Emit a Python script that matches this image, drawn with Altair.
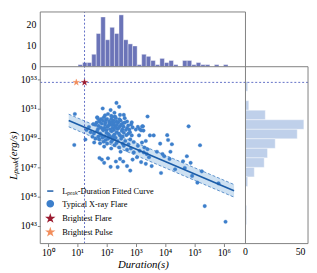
import altair as alt
import pandas as pd

# ---------------- data (log10 units) ----------------
log_duration = [
    2.34, 1.87, 2.14, 2.43,
    2.27, 2.05, 1.68, 2.16, 2.46, 2.29, 2.59,
    1.70, 1.75, 1.82, 1.91, 1.98, 2.09, 2.16, 2.24, 2.32, 2.40, 2.48, 2.56, 2.70, 2.86, 3.40,
    1.62, 1.73, 1.84, 1.95, 2.03, 2.14, 2.21, 2.29, 2.38, 2.46, 2.54, 2.70, 2.78, 2.89, 3.00, 3.07, 3.18, 3.24,
    1.46, 1.57, 1.68, 1.78, 1.89, 2.00, 2.09, 2.18, 2.27, 2.35, 2.46, 2.59, 2.75, 2.86, 3.11, 3.48, 3.61,
    1.52, 1.62, 1.75, 1.86, 1.97, 2.05, 2.16, 2.27, 2.38, 2.50, 2.64, 2.81, 2.93, 3.21, 3.34,
    1.78, 1.92, 2.16, 2.27, 2.43, 2.59, 2.75, 2.83, 3.07, 3.29, 3.40,
    2.48, 2.70, 2.93, 3.13, 3.27, 3.37,
    1.76, 1.84, 1.92, 2.05, 2.14, 2.32, 2.38, 2.46, 2.57, 2.70, 2.81, 2.89, 3.04, 3.18, 3.34,
    0.90, 0.92,
    4.80, 4.07, 4.10, 4.23, 3.83, 5.19, 3.72, 3.91, 3.97, 4.18, 4.15, 3.45, 3.54, 3.86, 4.34,
    4.61, 4.74, 4.87, 4.67, 4.92, 5.10, 5.25, 5.82, 5.35, 6.06,
    3.22, 3.26, 3.13,
    1.66, 1.71, 1.77, 1.80, 1.86, 1.88, 1.93, 1.96, 2.00, 2.02, 2.07, 2.10, 2.12, 2.18, 2.20,
    2.25, 2.26, 2.31, 2.34, 2.36, 2.42, 2.44, 2.50, 2.52, 2.58, 2.62, 2.66, 2.74, 2.80, 2.84,
    1.72, 1.82, 1.94, 2.06, 2.13, 2.22, 2.31, 2.42, 2.55, 2.68,
    1.90, 2.02, 2.20, 2.34, 2.55, 1.40, 1.32, 1.55, 1.28, 1.58, 2.62, 2.20, 1.95,
]
log_lpeak = [
    51.40, 51.02, 50.91, 51.13,
    50.73, 50.64, 50.42, 50.51, 50.58, 50.47, 50.58,
    50.36, 50.20, 50.29, 50.42, 50.24, 50.13, 50.29, 50.20, 50.36, 50.07, 50.20, 50.02, 50.13, 50.07, 50.47,
    49.91, 49.84, 49.98, 49.91, 49.76, 49.91, 49.69, 49.84, 49.62, 49.80, 49.58, 49.69, 49.58, 49.73, 49.58, 49.76, 49.53, 49.80,
    49.40, 49.31, 49.47, 49.31, 49.53, 49.36, 49.18, 49.47, 49.24, 49.40, 49.18, 49.36, 49.31, 49.18, 49.18, 49.18, 49.18,
    49.09, 48.96, 48.91, 49.02, 48.87, 48.96, 48.73, 48.96, 48.80, 48.96, 48.80, 48.91, 48.73, 48.69, 48.80,
    48.64, 48.42, 48.29, 48.51, 48.36, 48.47, 48.58, 48.29, 48.47, 48.36, 48.24,
    48.07, 48.20, 48.02, 48.13, 48.02, 47.91,
    47.64, 47.53, 47.31, 47.62, 47.04, 47.40, 47.02, 47.58, 47.40, 47.09, 46.78, 47.53, 47.69, 47.36, 47.24,
    48.53, 50.64,
    49.80, 49.20, 48.87, 48.58, 48.62, 48.51, 48.07, 47.91, 47.76, 48.07, 47.58, 47.69, 47.09, 46.62, 46.87,
    47.42, 47.76, 47.31, 46.96, 46.42, 45.96, 46.73, 45.91, 44.36, 43.29,
    49.80, 49.51, 49.62,
    50.05, 49.62, 50.10, 49.72, 49.66, 50.18, 49.70, 50.05, 49.55, 50.30, 49.85, 50.02, 49.60, 50.08, 49.88,
    50.00, 49.55, 49.72, 50.12, 49.90, 49.70, 50.28, 49.92, 49.48, 49.78, 50.05, 49.55, 49.85, 49.40, 49.92,
    49.10, 49.20, 49.12, 49.28, 49.05, 49.12, 49.02, 49.30, 49.10, 49.20,
    48.75, 48.62, 48.85, 48.66, 48.62, 49.75, 49.55, 49.95, 48.90, 48.70, 50.36, 50.45, 50.55,
]

brightest_flare = [1.25, 52.80]   # log10 duration (s), log10 Lpeak (erg/s)
brightest_pulse = [0.97, 52.80]

fit_log_duration = [0.71, 6.35]
fit_log_lpeak = [50.20, 45.40]
fit_band_halfwidth = 0.43

# top histogram (duration), bins in log10(s)
dur_bin_start = 1.03
dur_bin_width = 0.155
dur_counts = [1, 2, 2, 6, 16, 24, 13, 19, 16, 25, 13, 11, 10, 1, 6, 5, 3, 1, 4, 2, 3, 1, 0,
              3, 3, 1, 2, 1, 1, 0, 1, 0, 1]
dur_count_ticks = [0, 10, 20]
dur_count_max = 26.4

# right histogram (Lpeak), bins in log10(erg/s), listed from the top down
lpk_bin_top = 52.85
lpk_bin_width = 0.65
lpk_counts = [2, 0, 3, 18, 53, 47, 27, 20, 17, 8, 2, 0, 0, 1, 1]
lpk_count_ticks = [0, 50]
lpk_count_max = 56.8

x_ticks = [0, 1, 2, 3, 4, 5, 6]
y_ticks = [43, 45, 47, 49, 51, 53]
x_main = [-0.26, 6.74]
y_main = [41.8, 53.87]

# ---------------- panel geometry (one shared coordinate system) ----------------
W_PLOT, H_PLOT = 274, 237      # whole framed area (main + side panels)
W_MAIN, H_MAIN = 210, 181      # main scatter panel inside it
x_per_px = (x_main[1] - x_main[0]) / W_MAIN
y_per_px = (y_main[1] - y_main[0]) / H_MAIN
X_MAX = x_main[1] + (W_PLOT - W_MAIN) * x_per_px
Y_MAX = y_main[1] + (H_PLOT - H_MAIN) * y_per_px
k_top = (Y_MAX - y_main[1]) / dur_count_max      # count -> log L offset in top panel
k_right = (X_MAX - x_main[1]) / lpk_count_max    # count -> log duration offset in right panel

# ---------------- tables ----------------
S_FIT = "Lₚₑₐₖ-Duration Fitted Curve"
S_TYP = "Typical X-ray Flare"
S_BF = "Brightest Flare"
S_BP = "Brightest Pulse"
series_names = [S_FIT, S_TYP, S_BF, S_BP]

pts = pd.DataFrame({"d": log_duration, "l": log_lpeak, "s": S_TYP})
stars = pd.DataFrame({
    "d": [brightest_flare[0], brightest_pulse[0]],
    "l": [brightest_flare[1], brightest_pulse[1]],
    "s": [S_BF, S_BP],
})
fit = pd.DataFrame({"d": fit_log_duration, "l": fit_log_lpeak})
fit["lo"] = fit["l"] - fit_band_halfwidth
fit["hi"] = fit["l"] + fit_band_halfwidth

dur_hist = pd.DataFrame({
    "lo": [dur_bin_start + i * dur_bin_width for i in range(len(dur_counts))],
    "hi": [dur_bin_start + (i + 1) * dur_bin_width for i in range(len(dur_counts))],
    "n": dur_counts,
})
dur_hist = dur_hist[dur_hist["n"] > 0].reset_index(drop=True)
dur_hist["base"] = y_main[1]
dur_hist["top"] = y_main[1] + dur_hist["n"] * k_top

lpk_hist = pd.DataFrame({
    "hi": [lpk_bin_top - i * lpk_bin_width for i in range(len(lpk_counts))],
    "lo": [lpk_bin_top - (i + 1) * lpk_bin_width for i in range(len(lpk_counts))],
    "n": lpk_counts,
})
lpk_hist = lpk_hist[lpk_hist["n"] > 0].reset_index(drop=True)
lpk_hist["base"] = x_main[1]
lpk_hist["end"] = x_main[1] + lpk_hist["n"] * k_right

top_ticks = pd.DataFrame({"v": dur_count_ticks})
top_ticks["x"] = x_main[0]
top_ticks["y"] = y_main[1] + top_ticks["v"] * k_top
top_ticks["t"] = top_ticks["v"].astype(str)

right_ticks = pd.DataFrame({"v": lpk_count_ticks})
right_ticks["x"] = x_main[1] + right_ticks["v"] * k_right
right_ticks["y"] = y_main[0]
right_ticks["t"] = right_ticks["v"].astype(str)

frame = pd.DataFrame({
    "x":  [x_main[0], x_main[0], x_main[0], X_MAX, x_main[1], x_main[0]],
    "x2": [X_MAX, x_main[0], x_main[1], X_MAX, x_main[1], X_MAX],
    "y":  [y_main[0], y_main[0], Y_MAX, y_main[0], y_main[0], y_main[1]],
    "y2": [y_main[0], Y_MAX, Y_MAX, y_main[1], Y_MAX, y_main[1]],
})

dash_lines = pd.DataFrame({
    "x":  [brightest_flare[0], x_main[0]],
    "x2": [brightest_flare[0], X_MAX],
    "y":  [y_main[0], brightest_flare[1]],
    "y2": [Y_MAX, brightest_flare[1]],
})

# ---------------- styling ----------------
SERIF = "Liberation Serif"
FRAME = "#808080"
DASH_C = "#4f5fbf"
# five-pointed star as a custom symbol path (within the [-1, 1] box)
STAR = ("M0,-1L0.2245,-0.309L0.9511,-0.309L0.3633,0.118L0.5878,0.809L0,0.382"
        "L-0.5878,0.809L-0.3633,0.118L-0.9511,-0.309L-0.2245,-0.309Z")

xs = alt.Scale(domain=[x_main[0], X_MAX], nice=False, zero=False)
ys = alt.Scale(domain=[y_main[0], Y_MAX], nice=False, zero=False)

x_label_expr = "'10' + ['⁰','¹','²','³','⁴','⁵','⁶'][datum.value]"
y_label_expr = "'10' + ['⁴³','⁴⁵','⁴⁷','⁴⁹','⁵¹','⁵³'][(datum.value - 43) / 2]"

x_axis = alt.Axis(values=x_ticks, labelExpr=x_label_expr, title="Duration(s)",
                  titleX=W_MAIN / 2, titleFontStyle="italic", titleFontWeight="normal",
                  titleFontSize=11, titlePadding=1, labelFontSize=10, tickSize=3,
                  labelPadding=1, domain=False, grid=False, tickColor=FRAME)
y_axis = alt.Axis(values=y_ticks, labelExpr=y_label_expr, title="Lₚₑₐₖ(erg/s)",
                  titleY=(H_PLOT - H_MAIN) + H_MAIN / 2, titleFontStyle="italic",
                  titleFontWeight="normal", titleFontSize=11, titlePadding=1,
                  labelFontSize=10, tickSize=3, labelPadding=1,
                  domain=False, grid=False, tickColor=FRAME)

fill_scale = alt.Scale(domain=series_names, range=["#1b5ca8", "#3d7fcb", "#9b1b30", "#f28e5c"])
shape_scale = alt.Scale(domain=series_names, range=["stroke", "circle", STAR, STAR])

legend = alt.Legend(title=None, orient="bottom-left", offset=6, padding=0,
                    labelFont=SERIF, labelFontSize=8.5, labelColor="black",
                    symbolSize=40, symbolStrokeWidth=1.5, rowPadding=2, labelOffset=8)

X = lambda f: alt.X(f, type="quantitative", scale=xs, axis=x_axis)
Y = lambda f: alt.Y(f, type="quantitative", scale=ys, axis=y_axis)

top_bars = alt.Chart(dur_hist).mark_rect(color="#6b74b8", stroke="white", strokeWidth=0.4).encode(
    x=X("lo"), x2="hi", y=Y("base"), y2="top")
right_bars = alt.Chart(lpk_hist).mark_rect(color="#bfd0ea", stroke="white", strokeWidth=0.4).encode(
    x=X("base"), x2="end", y=Y("lo"), y2="hi")

band = alt.Chart(fit).mark_area(color="#9ec3e6", opacity=0.5).encode(
    x=X("d"), y=Y("lo"), y2="hi")
band_lo = alt.Chart(fit).mark_line(color="#3b7ac0", strokeWidth=0.8, strokeDash=[3, 2]).encode(
    x=X("d"), y=Y("lo"))
band_hi = alt.Chart(fit).mark_line(color="#3b7ac0", strokeWidth=0.8, strokeDash=[3, 2]).encode(
    x=X("d"), y=Y("hi"))
fit_line = alt.Chart(fit).mark_line(color="#1b5ca8", strokeWidth=1.6).encode(
    x=X("d"), y=Y("l"))


def point_layer(df, size):
    return alt.Chart(df).mark_point(filled=True, strokeWidth=0.3, opacity=1, size=size).encode(
        x=X("d"), y=Y("l"),
        fill=alt.Fill("s:N", scale=fill_scale, legend=legend),
        stroke=alt.Stroke("s:N", scale=fill_scale, legend=legend),
        shape=alt.Shape("s:N", scale=shape_scale, legend=legend),
    )


dashes = alt.Chart(dash_lines).mark_rule(color=DASH_C, strokeDash=[2, 2], strokeWidth=0.9).encode(
    x=X("x"), x2="x2", y=Y("y"), y2="y2")
frame_lines = alt.Chart(frame).mark_rule(color=FRAME, strokeWidth=1).encode(
    x=X("x"), x2="x2", y=Y("y"), y2="y2")

top_labels = alt.Chart(top_ticks).mark_text(align="right", baseline="middle", dx=-4,
                                            fontSize=10, font=SERIF, color="black").encode(
    x=X("x"), y=Y("y"), text="t:N")
right_labels = alt.Chart(right_ticks).mark_text(align="center", baseline="top", dy=4,
                                                fontSize=10, font=SERIF, color="black").encode(
    x=X("x"), y=Y("y"), text="t:N")

chart = alt.layer(
    top_bars, right_bars, band, band_lo, band_hi, point_layer(pts, 14), fit_line,
    dashes, point_layer(stars, 50), frame_lines, top_labels, right_labels
).properties(
    width=W_PLOT, height=H_PLOT, padding=0
).configure(font=SERIF).configure_view(strokeOpacity=0).configure_axis(
    labelFont=SERIF, titleFont=SERIF, labelColor="black", titleColor="black"
)

chart.save("out.html", embed_options={"renderer": "svg", "actions": False})
